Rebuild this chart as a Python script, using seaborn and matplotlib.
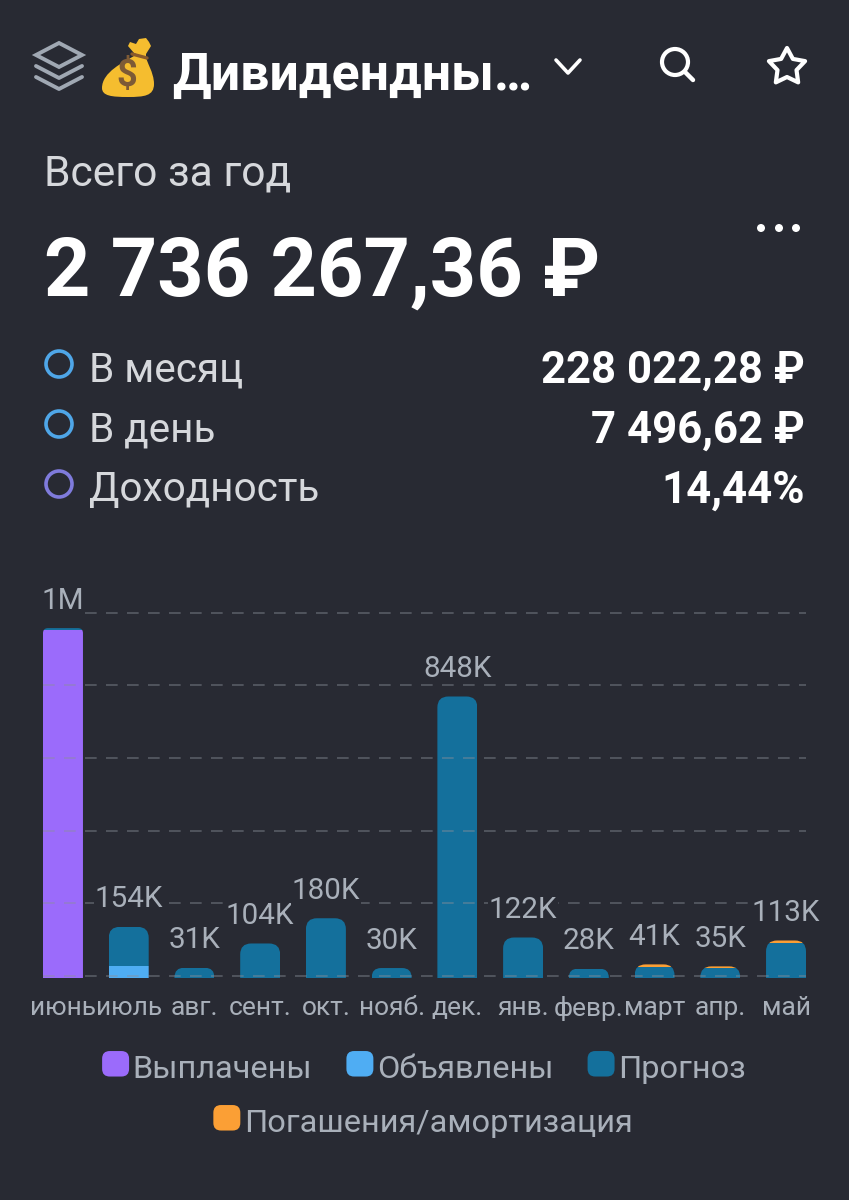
#!/usr/bin/env python
"""
Dividend portfolio screen: yearly totals and a stacked monthly bar chart.
"""
import matplotlib
matplotlib.use("Agg")
import matplotlib.pyplot as plt
import numpy as np
import pandas as pd
import seaborn as sns
from matplotlib.patches import Circle, FancyBboxPatch, Patch, PathPatch, Polygon
from matplotlib.legend_handler import HandlerPatch
from matplotlib.path import Path
from matplotlib.transforms import IdentityTransform

# Chart data, thousands of rubles
months = ["июнь", "июль", "авг.", "сент.", "окт.", "нояб.", "дек.", "янв.", "февр.", "март", "апр.", "май"]
paid = [1047, 0, 0, 0, 0, 0, 0, 0, 0, 0, 0, 0]
declared = [0, 36, 0, 0, 0, 0, 0, 0, 0, 0, 0, 0]
forecast = [7, 118, 31, 104, 180, 30, 848, 122, 28, 33, 30, 104]
redemption = [0, 0, 0, 0, 0, 0, 0, 0, 0, 8, 5, 9]
bar_labels = ["1M", "154K", "31K", "104K", "180K", "30K", "848K", "122K", "28K", "41K", "35K", "113K"]
grid_values = [6, 225, 444, 663, 882, 1101]

series_names = ["Выплачены", "Объявлены", "Прогноз", "Погашения/амортизация"]
series_colors = ["#9b6bfb", "#4fadf3", "#14709c", "#fb9f35"]

# Summary block
title = "Дивидендны…"
total_caption = "Всего за год"
total_value = "2 736 267,36 ₽"
summary_names = ["В месяц", "В день", "Доходность"]
summary_values = ["228 022,28 ₽", "7 496,62 ₽", "14,44%"]
summary_colors = ["#4fa6e8", "#4fa6e8", "#7f7bdc"]

BG = "#282a33"
GREY = "#a9b0ba"
LIGHT = "#d6d8dc"
W, H = 849, 1200

sns.set_theme(style="dark")
plt.rcParams["font.family"] = ["Roboto", "DejaVu Sans"]

fig = plt.figure(figsize=(W / 100, H / 100), dpi=100, facecolor=BG)


def px_axes(left, top, right, bottom):
    return [left / W, 1 - bottom / H, (right - left) / W, (bottom - top) / H]


ax = fig.add_axes(px_axes(43, 612.5, 806, 978), facecolor=BG)

df = pd.DataFrame({"month": months, "paid": paid, "declared": declared,
                   "forecast": forecast, "redemption": redemption})

# stack the series by hand, seaborn has no stacked bars
bottom = np.zeros(len(months))
for col, color in zip(["paid", "declared", "forecast", "redemption"], series_colors):
    sns.barplot(data=df, x="month", y=col, color=color, width=0.608, saturation=1,
                bottom=bottom, ax=ax, zorder=2, linewidth=0)
    bottom = bottom + df[col].to_numpy()

ax.set_xlim(-0.304, 11.304)
ax.set_ylim(0, 1101)
ax.set_xlabel("")
ax.set_ylabel("")
ax.set_yticks(grid_values)
ax.set_yticklabels([])
ax.tick_params(axis="both", length=0)
ax.tick_params(axis="x", colors=GREY, labelsize=19, pad=13)
for s in ax.spines.values():
    s.set_visible(False)
ax.grid(False)
for v in grid_values:
    ax.axhline(v, color="#8a8f99", alpha=0.42, lw=1.4, dashes=(6, 4.8), zorder=3, clip_on=False)

# round only the top corners: clip each stack to a rounded box in pixels
fig.canvas.draw()
for i, total in enumerate(bottom):
    x0, y1 = ax.transData.transform((i - 0.304, total))
    x1, y0 = ax.transData.transform((i + 0.304, 0))
    r = min(11, (y1 - y0) * 0.95) if i else 5
    clip = FancyBboxPatch((x0 + r, y0 - 30), x1 - x0 - 2 * r, y1 - y0 + 30 - r,
                          boxstyle=f"round,pad={r},rounding_size={r}",
                          transform=IdentityTransform(), linewidth=0)
    for cont in ax.containers:
        cont[i].set_clip_path(clip)
    ax.annotate(bar_labels[i], (i, total), xytext=(0, 14), textcoords="offset points",
                ha="center", va="baseline", color=GREY, fontsize=21.3, zorder=5,
                annotation_clip=False,
                bbox=dict(boxstyle="square,pad=0.02", fc=BG, ec="none"))


class RoundSwatch(HandlerPatch):
    def create_artists(self, legend, orig, xd, yd, width, height, fontsize, trans):
        p = FancyBboxPatch((xd + 3, yd + 3), width - 6, height - 6,
                           boxstyle="round,pad=3,rounding_size=5.5",
                           fc=orig.get_facecolor(), ec="none", transform=trans)
        return [p]


handles = [Patch(color=c, label=n) for c, n in zip(series_colors, series_names)]
hm = {Patch: RoundSwatch()}
common = dict(frameon=False, fontsize=23.4, labelcolor=GREY, handler_map=hm,
              handlelength=0.83, handleheight=0.83, handletextpad=0.11, borderpad=0, borderaxespad=0)
fig.legend(handles=handles[:3], ncol=3, columnspacing=1.05, loc="center",
           bbox_to_anchor=(424 / W, 1 - 1069 / H), **common)
fig.legend(handles=handles[3:], loc="center", bbox_to_anchor=(423 / W, 1 - 1123 / H), **common)

# overlay in screen pixels for the header and summary block
ov = fig.add_axes([0, 0, 1, 1], facecolor="none", zorder=10)
ov.set_xlim(0, W)
ov.set_ylim(H, 0)
ov.axis("off")

# layers icon
icon = "#a0a8b3"
ov.add_patch(Polygon([(59, 43), (82, 55), (59, 67), (36, 55)], closed=True, fc="none", ec=icon, lw=2.8))
ov.plot([36, 59, 82], [66, 78, 66], color=icon, lw=2.8, solid_capstyle="round")
ov.plot([36, 59, 82], [77, 89, 77], color=icon, lw=2.8, solid_capstyle="round")

# money bag, there is no emoji font so it is drawn
bag = "#f5bd2f"
body = [(134, 56), (124, 62), (102, 72), (102, 88), (102, 96), (112, 97), (128, 97),
        (144, 97), (154, 96), (154, 84), (154, 72), (146, 62), (146, 56), (146, 55), (134, 55), (134, 56)]
codes = [Path.MOVETO] + [Path.CURVE4] * 15
ov.add_patch(PathPatch(Path(body, codes), fc=bag, ec="none"))
tuft = [(134, 53), (128, 46), (130, 42), (136, 44), (139, 39), (146, 38), (149, 42),
        (151, 46), (146, 54), (146, 56), (140, 56), (134, 53)]
ov.add_patch(Polygon(tuft, closed=True, fc=bag, ec="none", joinstyle="round"))
ov.plot([132, 147], [54, 58], color="#8a5a2b", lw=2.4, solid_capstyle="round")
ov.text(127, 76, "$", color="#7d5a36", fontsize=26, fontweight="bold", ha="center", va="center")

ov.text(172, 90, title, color="white", fontsize=37.3, fontweight="bold", va="baseline")

# chevron, search, star
ov.plot([556, 568, 580], [60, 73, 60], color="white", lw=2.6, solid_capstyle="round", solid_joinstyle="round")
ov.add_patch(Circle((675, 62), 13, fc="none", ec="white", lw=3))
ov.plot([685, 693], [72, 80], color="white", lw=3.2, solid_capstyle="round")
ang = np.deg2rad(-90 + 36 * np.arange(10))
rad = np.where(np.arange(10) % 2 == 0, 19, 10)
ov.add_patch(Polygon(np.c_[787 + rad * np.cos(ang), 67 + rad * np.sin(ang)], closed=True,
                     fc="none", ec="white", lw=3, joinstyle="round"))

ov.text(44, 186, total_caption, color=LIGHT, fontsize=30.7, va="baseline")
ov.text(44, 296, total_value, color="white", fontsize=58.4, fontweight="bold", va="baseline")
for cx in [761, 779, 796]:
    ov.add_patch(Circle((cx, 228), 4, fc="white", ec="none"))

for name, val, c, y in zip(summary_names, summary_values, summary_colors, [381, 441, 501]):
    ov.add_patch(Circle((59, y - 17), 13, fc="none", ec=c, lw=2.6))
    ov.text(89, y, name, color=LIGHT, fontsize=29.2, va="baseline")
    ov.text(805, y + 2, val, color="white", fontsize=31.5, fontweight="bold", va="baseline", ha="right")

fig.savefig("out.png", dpi=100, facecolor=BG)
plt.close(fig)
